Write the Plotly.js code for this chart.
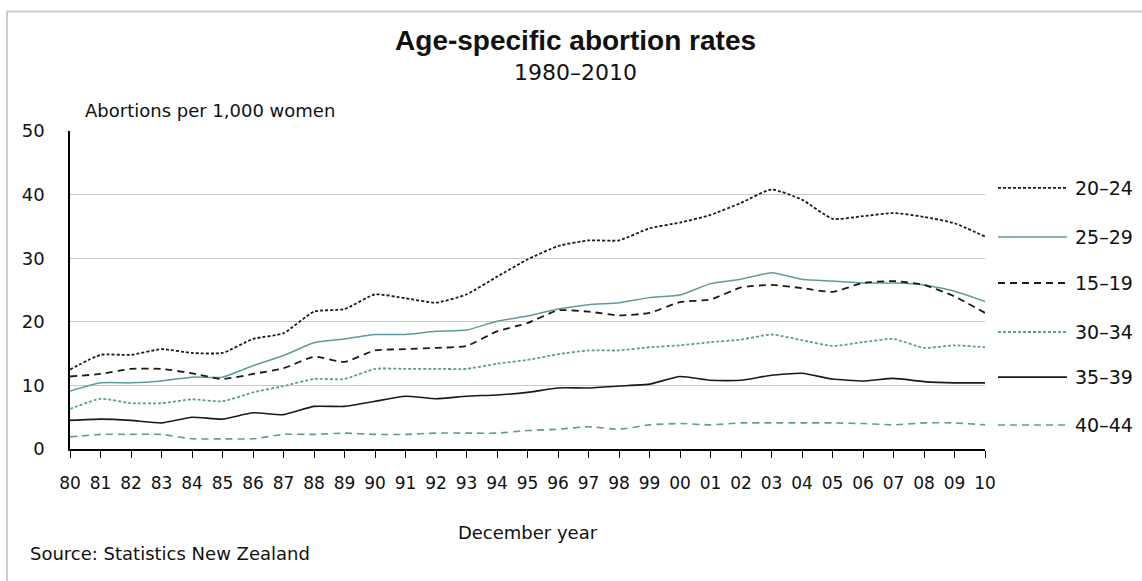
<!DOCTYPE html>
<html>
<head>
<meta charset="utf-8">
<script src="https://cdn.plot.ly/plotly-3.0.1.min.js"></script>
<style>html,body{margin:0;padding:0;background:#fff;}#chart{width:1142px;height:581px;}</style>
</head>
<body>
<div id="chart"></div>
<script>
const years = [1980,1981,1982,1983,1984,1985,1986,1987,1988,1989,1990,1991,1992,1993,1994,1995,1996,1997,1998,1999,2000,2001,2002,2003,2004,2005,2006,2007,2008,2009,2010];
const tickLabels = ["80","81","82","83","84","85","86","87","88","89","90","91","92","93","94","95","96","97","98","99","00","01","02","03","04","05","06","07","08","09","10"];
const yTicks = [0, 10, 20, 30, 40, 50];

const age20_24 = [12.5,14.8,14.8,15.7,15.1,15.1,17.3,18.2,21.6,22.0,24.3,23.7,23.0,24.3,27.1,29.8,31.9,32.8,32.8,34.7,35.6,36.8,38.7,40.8,39.2,36.2,36.6,37.1,36.5,35.5,33.4];
const age25_29 = [9.1,10.4,10.4,10.7,11.3,11.3,13.1,14.7,16.7,17.3,18.0,18.0,18.5,18.7,20.1,20.9,22.0,22.7,23.0,23.8,24.2,26.0,26.7,27.7,26.7,26.4,26.1,26.1,25.8,24.8,23.2];
const age15_19 = [11.4,11.8,12.6,12.6,11.9,11.0,11.8,12.7,14.5,13.7,15.5,15.7,15.9,16.2,18.5,19.8,21.8,21.6,21.0,21.4,23.1,23.5,25.4,25.8,25.3,24.7,26.1,26.4,25.8,24.0,21.4];
const age30_34 = [6.3,7.9,7.2,7.2,7.8,7.5,8.9,9.9,11.0,11.0,12.6,12.6,12.6,12.6,13.4,14.0,14.9,15.5,15.5,16.0,16.3,16.8,17.2,18.0,17.1,16.2,16.8,17.3,15.9,16.3,16.0];
const age35_39 = [4.5,4.7,4.5,4.1,5.0,4.7,5.7,5.4,6.7,6.7,7.5,8.3,7.9,8.3,8.5,8.9,9.6,9.6,9.9,10.2,11.4,10.8,10.8,11.6,11.9,11.0,10.7,11.1,10.6,10.4,10.4];
const age40_44 = [1.9,2.3,2.3,2.3,1.6,1.6,1.6,2.3,2.3,2.5,2.3,2.3,2.5,2.5,2.5,2.9,3.1,3.5,3.1,3.8,4.0,3.8,4.1,4.1,4.1,4.1,4.0,3.8,4.1,4.1,3.8];

const seriesNames = ["20–24","25–29","15–19","30–34","35–39","40–44"];
const seriesValues = [age20_24, age25_29, age15_19, age30_34, age35_39, age40_44];

const black = "#1a1a1a";
const teal = "#5e9c9c";
const styles = [
  {color: black, dash: "3px,2px", width: 1.8},
  {color: teal, dash: "solid", width: 1.5},
  {color: black, dash: "7px,5px", width: 1.8},
  {color: teal, dash: "3px,2px", width: 1.8},
  {color: black, dash: "solid", width: 1.6},
  {color: teal, dash: "7px,5px", width: 1.6}
];

const traces = seriesNames.map((n, i) => ({
  type: "scatter",
  mode: "lines",
  name: n,
  x: years,
  y: seriesValues[i],
  showlegend: false,
  line: {color: styles[i].color, dash: styles[i].dash, width: styles[i].width, shape: "spline", smoothing: 0.5},
  hoverinfo: "x+y+name"
}));

const font = "DejaVu Sans, Verdana, sans-serif";
const titleFont = "Liberation Sans, Arial, sans-serif";

// legend placement (layout only)
const legendY = [0.821, 0.667, 0.522, 0.368, 0.226, 0.0755];
const legendX0 = 1.0142, legendX1 = 1.0896, legendTextX = 1.0962;

const legendShapes = seriesNames.map((n, i) => ({
  type: "line", xref: "paper", yref: "paper",
  x0: legendX0, x1: legendX1, y0: legendY[i], y1: legendY[i],
  line: {color: styles[i].color, dash: styles[i].dash, width: styles[i].width}
}));
const legendLabels = seriesNames.map((n, i) => ({
  text: n, xref: "paper", yref: "paper", x: legendTextX, y: legendY[i],
  xanchor: "left", yanchor: "middle", showarrow: false,
  font: {family: font, size: 19, color: "#111"}
}));

const layout = {
  width: 1142,
  height: 581,
  paper_bgcolor: "#ffffff",
  plot_bgcolor: "#ffffff",
  margin: {l: 70, r: 157, t: 131, b: 132, pad: 0},
  font: {family: font, size: 18, color: "#111"},
  title: {
    text: "<b>Age-specific abortion rates</b>",
    font: {family: titleFont, size: 28, color: "#111"},
    x: 0.504, xanchor: "center", xref: "container",
    y: 0.931, yanchor: "middle", yref: "container"
  },
  xaxis: {
    range: [1980, 2010],
    tickvals: years,
    ticktext: tickLabels,
    ticks: "outside",
    ticklen: 7,
    tickcolor: "#000",
    tickwidth: 1.2,
    ticklabelstandoff: 11,
    showline: true,
    linecolor: "#000",
    linewidth: 1.5,
    showgrid: false,
    zeroline: false,
    tickfont: {family: font, size: 17, color: "#111"},
    title: {text: "December year", font: {family: font, size: 18, color: "#111"}, standoff: 34},
    fixedrange: true
  },
  yaxis: {
    range: [0, 50],
    tickvals: yTicks,
    ticks: "",
    ticklabelstandoff: 20,
    showline: true,
    linecolor: "#000",
    linewidth: 1.5,
    showgrid: true,
    gridcolor: "#c8c8c8",
    gridwidth: 1.3,
    zeroline: false,
    tickfont: {family: font, size: 18, color: "#111"},
    fixedrange: true
  },
  showlegend: false,
  annotations: [
    {text: "1980–2010", xref: "paper", yref: "paper", x: 0.5530, y: 1.1855, xanchor: "center", yanchor: "middle", showarrow: false, font: {family: font, size: 22, color: "#111"}},
    {text: "Abortions per 1,000 women", xref: "paper", yref: "paper", x: 0.0142, y: 1.063, xanchor: "left", yanchor: "middle", showarrow: false, font: {family: font, size: 18, color: "#111"}},
    {text: "Source: Statistics New Zealand", xref: "paper", yref: "paper", x: -0.0459, y: -0.330, xanchor: "left", yanchor: "middle", showarrow: false, font: {family: font, size: 18, color: "#111"}}
  ].concat(legendLabels),
  shapes: [
    {type: "rect", xref: "paper", yref: "paper", x0: -0.0689, x1: 1.3, y0: -0.5, y1: 1.376, line: {color: "#cccccc", width: 2}, fillcolor: "rgba(0,0,0,0)", layer: "below"}
  ].concat(legendShapes)
};

Plotly.newPlot("chart", traces, layout, {displayModeBar: false});
</script>
</body>
</html>
